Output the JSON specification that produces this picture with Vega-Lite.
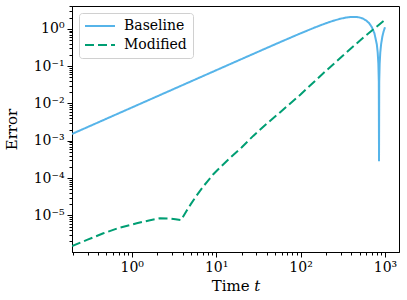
{
  "$schema": "https://vega.github.io/schema/vega-lite/v6.json",
  "width": 327,
  "height": 246,
  "autosize": {"type": "none"},
  "padding": {"left": 72, "top": 6, "right": 8, "bottom": 48},
  "background": "white",
  "config": {
    "view": {"stroke": "black", "strokeWidth": 1},
    "font": "DejaVu Serif",
    "axis": {
      "grid": false,
      "domainColor": "black",
      "domainWidth": 1,
      "tickColor": "black",
      "tickWidth": 1,
      "labelColor": "black",
      "titleColor": "black",
      "labelFont": "DejaVu Serif",
      "titleFont": "DejaVu Serif",
      "labelFontSize": 14,
      "titleFontSize": 15,
      "titleFontWeight": "normal",
      "labelFlush": false,
      "labelOverlap": false
    },
    "legend": {
      "orient": "none",
      "legendX": 7,
      "legendY": 7,
      "fillColor": "white",
      "strokeColor": "#d0d0d0",
      "cornerRadius": 3,
      "padding": 6,
      "symbolType": "M-3,0H3",
      "symbolSize": 100,
      "symbolStrokeWidth": 2,
      "symbolOffset": 8,
      "labelFont": "DejaVu Serif",
      "labelFontSize": 14,
      "labelColor": "black",
      "labelOffset": 17,
      "rowPadding": 5
    }
  },
  "data": {
    "values": [
      {"t": 0.196, "error": 0.00152, "series": "Baseline"},
      {"t": 0.5, "error": 0.00388, "series": "Baseline"},
      {"t": 1, "error": 0.00776, "series": "Baseline"},
      {"t": 2, "error": 0.01552, "series": "Baseline"},
      {"t": 5, "error": 0.0388, "series": "Baseline"},
      {"t": 10, "error": 0.0776, "series": "Baseline"},
      {"t": 20, "error": 0.1551, "series": "Baseline"},
      {"t": 50, "error": 0.3858, "series": "Baseline"},
      {"t": 100, "error": 0.7587, "series": "Baseline"},
      {"t": 150, "error": 1.105, "series": "Baseline"},
      {"t": 200, "error": 1.415, "series": "Baseline"},
      {"t": 250, "error": 1.676, "series": "Baseline"},
      {"t": 300, "error": 1.88, "series": "Baseline"},
      {"t": 350, "error": 2.02, "series": "Baseline"},
      {"t": 400, "error": 2.091, "series": "Baseline"},
      {"t": 450, "error": 2.091, "series": "Baseline"},
      {"t": 500, "error": 2.02, "series": "Baseline"},
      {"t": 550, "error": 1.88, "series": "Baseline"},
      {"t": 600, "error": 1.676, "series": "Baseline"},
      {"t": 650, "error": 1.415, "series": "Baseline"},
      {"t": 700, "error": 1.105, "series": "Baseline"},
      {"t": 750, "error": 0.759, "series": "Baseline"},
      {"t": 800, "error": 0.386, "series": "Baseline"},
      {"t": 820, "error": 0.2325, "series": "Baseline"},
      {"t": 835, "error": 0.1164, "series": "Baseline"},
      {"t": 845, "error": 0.0388, "series": "Baseline"},
      {"t": 850, "error": 0.00028, "series": "Baseline"},
      {"t": 855, "error": 0.0388, "series": "Baseline"},
      {"t": 865, "error": 0.1164, "series": "Baseline"},
      {"t": 880, "error": 0.2325, "series": "Baseline"},
      {"t": 900, "error": 0.386, "series": "Baseline"},
      {"t": 930, "error": 0.612, "series": "Baseline"},
      {"t": 960, "error": 0.83, "series": "Baseline"},
      {"t": 1000, "error": 1.105, "series": "Baseline"},
      {"t": 0.196, "error": 1.51e-6, "series": "Modified"},
      {"t": 0.3, "error": 2.23e-6, "series": "Modified"},
      {"t": 0.461, "error": 3.3e-6, "series": "Modified"},
      {"t": 0.7, "error": 4.6e-6, "series": "Modified"},
      {"t": 1.146, "error": 6.12e-6, "series": "Modified"},
      {"t": 1.6, "error": 7.3e-6, "series": "Modified"},
      {"t": 2.16, "error": 8.33e-6, "series": "Modified"},
      {"t": 2.8, "error": 8.2e-6, "series": "Modified"},
      {"t": 3.3, "error": 7.8e-6, "series": "Modified"},
      {"t": 3.84, "error": 7.41e-6, "series": "Modified"},
      {"t": 4.47, "error": 1.32e-5, "series": "Modified"},
      {"t": 5.01, "error": 2.0e-5, "series": "Modified"},
      {"t": 5.62, "error": 2.95e-5, "series": "Modified"},
      {"t": 6.31, "error": 4.27e-5, "series": "Modified"},
      {"t": 7.08, "error": 6.03e-5, "series": "Modified"},
      {"t": 7.94, "error": 8.32e-5, "series": "Modified"},
      {"t": 9.25, "error": 1.26e-4, "series": "Modified"},
      {"t": 11.2, "error": 1.95e-4, "series": "Modified"},
      {"t": 14.6, "error": 3.47e-4, "series": "Modified"},
      {"t": 20, "error": 6.6e-4, "series": "Modified"},
      {"t": 27.5, "error": 1.35e-3, "series": "Modified"},
      {"t": 39.8, "error": 2.88e-3, "series": "Modified"},
      {"t": 57, "error": 5.75e-3, "series": "Modified"},
      {"t": 100, "error": 0.0174, "series": "Modified"},
      {"t": 186, "error": 0.0646, "series": "Modified"},
      {"t": 316, "error": 0.19, "series": "Modified"},
      {"t": 562, "error": 0.6, "series": "Modified"},
      {"t": 1000, "error": 1.74, "series": "Modified"}
    ]
  },
  "mark": {"type": "line", "strokeWidth": 2, "clip": true},
  "encoding": {
    "x": {
      "field": "t",
      "type": "quantitative",
      "scale": {"type": "log", "domain": [0.196, 1466], "nice": false},
      "axis": {
        "title": "Time 𝑡",
        "values": [0.2,0.3,0.4,0.5,0.6,0.7,0.8,0.9,1,2,3,4,5,6,7,8,9,10,20,30,40,50,60,70,80,90,100,200,300,400,500,600,700,800,900,1000],
        "labelExpr": "abs(log(datum.value)/LN10 - round(log(datum.value)/LN10)) < 0.001 ? '10' + ['⁻⁶','⁻⁵','⁻⁴','⁻³','⁻²','⁻¹','⁰','¹','²','³'][round(log(datum.value)/LN10)+6] : ''",
        "tickSize": {"condition": {"test": "abs(log(datum.value)/LN10 - round(log(datum.value)/LN10)) < 0.001", "value": 5}, "value": 3},
        "labelPadding": 3,
        "titlePadding": 4
      }
    },
    "y": {
      "field": "error",
      "type": "quantitative",
      "scale": {"type": "log", "domain": [1.04e-6, 4.1], "nice": false},
      "axis": {
        "title": "Error",
        "values": [2e-6,3e-6,4e-6,5e-6,6e-6,7e-6,8e-6,9e-6,1e-5,2e-5,3e-5,4e-5,5e-5,6e-5,7e-5,8e-5,9e-5,1e-4,2e-4,3e-4,4e-4,5e-4,6e-4,7e-4,8e-4,9e-4,0.001,0.002,0.003,0.004,0.005,0.006,0.007,0.008,0.009,0.01,0.02,0.03,0.04,0.05,0.06,0.07,0.08,0.09,0.1,0.2,0.3,0.4,0.5,0.6,0.7,0.8,0.9,1,2,3,4],
        "labelExpr": "abs(log(datum.value)/LN10 - round(log(datum.value)/LN10)) < 0.001 ? '10' + ['⁻⁶','⁻⁵','⁻⁴','⁻³','⁻²','⁻¹','⁰','¹','²','³'][round(log(datum.value)/LN10)+6] : ''",
        "tickSize": {"condition": {"test": "abs(log(datum.value)/LN10 - round(log(datum.value)/LN10)) < 0.001", "value": 5}, "value": 3},
        "labelPadding": 3,
        "titlePadding": 14
      }
    },
    "color": {
      "field": "series",
      "type": "nominal",
      "scale": {"domain": ["Baseline", "Modified"], "range": ["#56B4E9", "#009E73"]},
      "legend": {"title": null}
    },
    "strokeDash": {
      "field": "series",
      "type": "nominal",
      "scale": {"domain": ["Baseline", "Modified"], "range": [[1, 0], [9, 4]]},
      "legend": {"title": null}
    }
  }
}
